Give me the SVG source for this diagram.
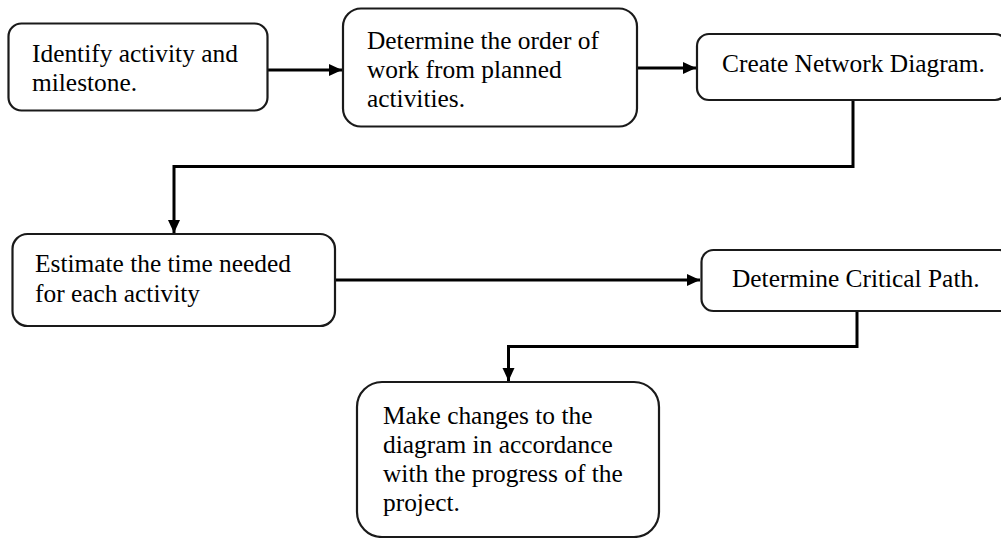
<svg xmlns="http://www.w3.org/2000/svg" width="1001" height="538" viewBox="0 0 1001 538">
<style>
.box{fill:#fff;stroke:#1a1a1a;stroke-width:2.2}
.t{font-family:"Liberation Serif","Times New Roman",serif;font-size:25.4px;fill:#000}
.c{fill:none;stroke:#000;stroke-width:3}
</style>
<defs>
<marker id="ah" markerUnits="userSpaceOnUse" markerWidth="14" markerHeight="14" viewBox="0 0 14 14" refX="13" refY="7" orient="auto">
<path d="M0,1 L13,7 L0,13 Z" fill="#000"/>
</marker>
</defs>
<rect width="1001" height="538" fill="#fff"/>
<g id="connectors">
<path class="c" d="M268,70 H342" marker-end="url(#ah)"/>
<path class="c" d="M637,68 H696" marker-end="url(#ah)"/>
<path class="c" d="M853,100 V166.5 H174 V233" marker-end="url(#ah)"/>
<path class="c" d="M335,280 H700" marker-end="url(#ah)"/>
<path class="c" d="M857,311 V346.5 H508.5 V381" marker-end="url(#ah)"/>
</g>
<g id="n1">
<rect class="box" x="8.5" y="23.5" width="259" height="87" rx="13"/>
<text class="t" x="32" y="61.5">Identify activity and</text>
<text class="t" x="32" y="90.5">milestone.</text>
</g>
<g id="n2">
<rect class="box" x="343" y="8.5" width="294" height="118" rx="18"/>
<text class="t" x="367" y="48.5">Determine the order of</text>
<text class="t" x="367" y="77.5">work from planned</text>
<text class="t" x="367" y="106.5">activities.</text>
</g>
<g id="n3">
<rect class="box" x="697" y="34" width="310" height="66" rx="12"/>
<text class="t" x="722" y="71.5">Create Network Diagram.</text>
</g>
<g id="n4">
<rect class="box" x="12.5" y="234" width="322.5" height="92" rx="15"/>
<text class="t" x="35" y="271.5">Estimate the time needed</text>
<text class="t" x="35" y="301.5">for each activity</text>
</g>
<g id="n5">
<rect class="box" x="701.5" y="250" width="310" height="61" rx="12"/>
<text class="t" x="732" y="286.5">Determine Critical Path.</text>
</g>
<g id="n6">
<rect class="box" x="357" y="382" width="302" height="155" rx="25"/>
<text class="t" x="383" y="423.5">Make changes to the</text>
<text class="t" x="383" y="452.8">diagram in accordance</text>
<text class="t" x="383" y="482">with the progress of the</text>
<text class="t" x="383" y="511">project.</text>
</g>
</svg>
